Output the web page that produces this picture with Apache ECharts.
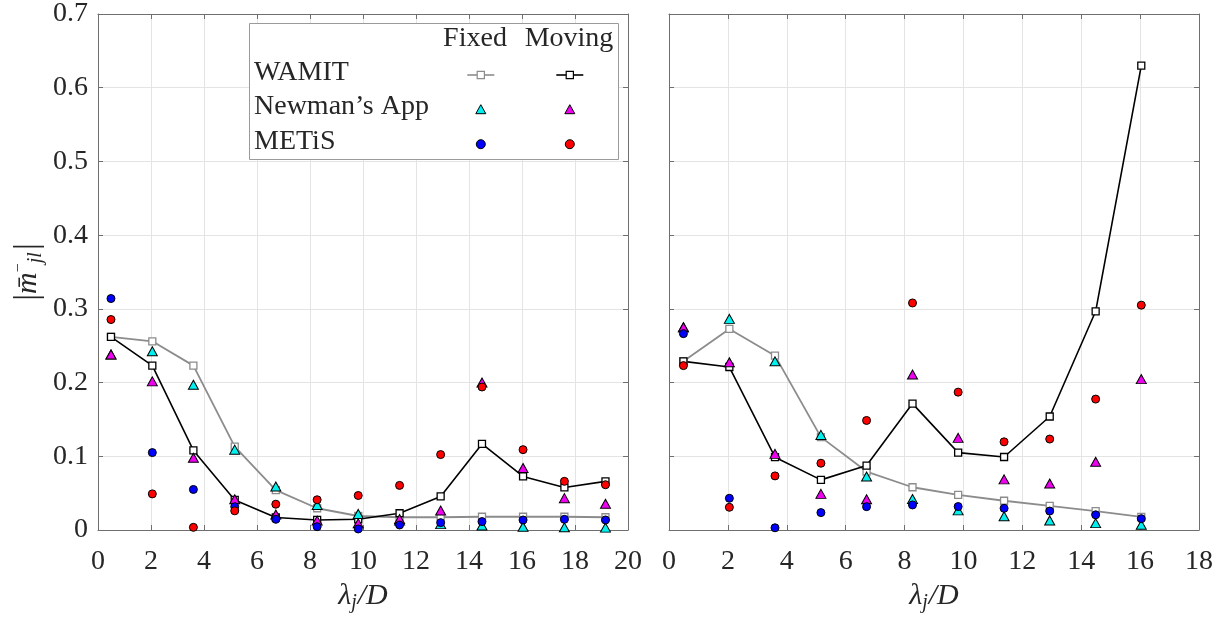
<!DOCTYPE html>
<html>
<head>
<meta charset="utf-8">
<script src="https://cdn.jsdelivr.net/npm/echarts@6/dist/echarts.min.js"></script>
<style>
  html, body { margin: 0; padding: 0; background: #ffffff; }
  #chart { width: 1221px; height: 618px; }
</style>
</head>
<body>
<div id="chart"></div>
<script>
// Wavelength ratio lambda_j / D at each evaluated frequency
const lambdaLeft = [0.49, 2.05, 3.60, 5.16, 6.71, 8.27, 9.82, 11.38, 12.93, 14.49, 16.04, 17.60, 19.15];
const lambdaRight = [0.49, 2.05, 3.60, 5.16, 6.71, 8.27, 9.82, 11.38, 12.93, 14.49, 16.04];

// Left panel: |m_jl^-|
const wamitFixedL   = [0.262, 0.256, 0.223, 0.113, 0.054, 0.0295, 0.019, 0.0173, 0.0173, 0.018, 0.018, 0.018, 0.0173];
const wamitMovingL  = [0.262, 0.223, 0.108, 0.0408, 0.017, 0.0136, 0.0145, 0.0227, 0.0455, 0.1168, 0.0727, 0.0577, 0.066];
const newmanFixedL  = [0.238, 0.2424, 0.197, 0.109, 0.059, 0.034, 0.0218, 0.0127, 0.008, 0.006, 0.0045, 0.0036, 0.0032];
const newmanMovingL = [0.238, 0.2016, 0.098, 0.0417, 0.021, 0.0127, 0.009, 0.015, 0.0264, 0.200, 0.084, 0.0432, 0.0355];
const metisFixedL   = [0.314, 0.105, 0.055, 0.0317, 0.0145, 0.0045, 0.0014, 0.0068, 0.010, 0.0114, 0.0136, 0.0145, 0.0136];
const metisMovingL  = [0.2855, 0.049, 0.0036, 0.026, 0.035, 0.041, 0.0468, 0.0605, 0.1023, 0.194, 0.109, 0.066, 0.0614];

// Right panel: |m_jl^-|
const wamitFixedR   = [0.229, 0.2728, 0.2365, 0.126, 0.0793, 0.058, 0.0477, 0.0397, 0.0327, 0.0257, 0.0178];
const wamitMovingR  = [0.2288, 0.2211, 0.0988, 0.068, 0.0874, 0.1715, 0.105, 0.099, 0.154, 0.2967, 0.630];
const newmanFixedR  = [0.275, 0.2864, 0.2288, 0.129, 0.0725, 0.042, 0.0266, 0.0187, 0.013, 0.0093, 0.007];
const newmanMovingR = [0.275, 0.2275, 0.1033, 0.049, 0.0417, 0.211, 0.125, 0.0687, 0.063, 0.0925, 0.2047];
const metisFixedR   = [0.2664, 0.043, 0.003, 0.0236, 0.0317, 0.034, 0.0318, 0.0294, 0.0257, 0.0206, 0.0154];
const metisMovingR  = [0.223, 0.0308, 0.0734, 0.0906, 0.1486, 0.308, 0.187, 0.1196, 0.1234, 0.1776, 0.305];

// Axis ticks
const xTicksLeft = [0, 2, 4, 6, 8, 10, 12, 14, 16, 18, 20];
const xTicksRight = [0, 2, 4, 6, 8, 10, 12, 14, 16, 18];
const yTicks = [0, 0.1, 0.2, 0.3, 0.4, 0.5, 0.6, 0.7];

// Legend table text
const legendHeaders = ['Fixed', 'Moving'];
const legendRows = ['WAMIT', 'Newman\u2019s App', 'METiS'];

const SERIF = "'Liberation Serif', 'Times New Roman', serif";
const INK = '#262626';
const AXIS = '#6f6f6f';
const GRID = '#e4e4e4';
const GRAY = '#8c8c8c';
const CYAN = '#00f0f0';
const MAGENTA = '#f000f0';
const BLUE = '#0000ff';
const RED = '#ff0000';
const TRIANGLE_ICON = 'path://M5,0L10,9L0,9Z';

const pairs = (xs, ys) => xs.map((x, i) => [x, ys[i]]);

const grids = [
  { left: 98, top: 14, width: 530, height: 516 },
  { left: 669, top: 14, width: 530, height: 516 }
];

function xAxes(gridIndex, ticks) {
  const step = ticks[1] - ticks[0];
  const base = {
    type: 'value', gridIndex, min: ticks[0], max: ticks[ticks.length - 1], interval: step,
    axisLine: { show: true, onZero: false, lineStyle: { color: AXIS, width: 1 } },
    axisTick: { show: true, inside: true, length: 5, lineStyle: { color: AXIS } }
  };
  return [
    Object.assign({}, base, {
      position: 'bottom',
      splitLine: { show: true, lineStyle: { color: GRID, width: 1 } },
      axisLabel: { show: true, fontFamily: SERIF, fontSize: 28, color: INK, margin: 18 },
      name: '{i|\u03bb}{s|j}{i|/D}',
      nameLocation: 'middle',
      nameGap: 36,
      nameTextStyle: {
        fontFamily: SERIF, fontSize: 30, color: INK,
        rich: {
          i: { fontFamily: SERIF, fontSize: 30, fontStyle: 'italic', color: INK },
          s: { fontFamily: SERIF, fontSize: 20, fontStyle: 'italic', color: INK, padding: [14, 1, 0, 0] }
        }
      }
    }),
    Object.assign({}, base, {
      position: 'top',
      splitLine: { show: false },
      axisLabel: { show: false }
    })
  ];
}

function yAxes(gridIndex, withLabels) {
  const base = {
    type: 'value', gridIndex, min: yTicks[0], max: yTicks[yTicks.length - 1],
    interval: yTicks[1] - yTicks[0],
    axisLine: { show: true, onZero: false, lineStyle: { color: AXIS, width: 1 } },
    axisTick: { show: true, inside: true, length: 5, lineStyle: { color: AXIS } }
  };
  const main = Object.assign({}, base, {
    position: 'left',
    splitLine: { show: true, lineStyle: { color: GRID, width: 1 } },
    axisLabel: {
      show: withLabels, fontFamily: SERIF, fontSize: 28, color: INK, margin: 10,
      formatter: v => (Math.abs(v) < 1e-9 ? '0' : v.toFixed(1))
    }
  });
  if (withLabels) {
    Object.assign(main, {
      name: '{b||}{m|m\u0304}{p|\u2212}{s|jl}{b||}',
      nameLocation: 'middle',
      nameGap: 52,
      nameRotate: 90,
      nameTextStyle: {
        fontFamily: SERIF, fontSize: 30, color: INK,
        rich: {
          b: { fontFamily: SERIF, fontSize: 34, color: INK },
          m: { fontFamily: SERIF, fontSize: 30, fontStyle: 'italic', color: INK },
          p: { fontFamily: SERIF, fontSize: 16, color: INK, padding: [0, 0, 18, 0] },
          s: { fontFamily: SERIF, fontSize: 20, fontStyle: 'italic', color: INK, padding: [16, 2, 0, 0] }
        }
      }
    });
  }
  return [
    main,
    Object.assign({}, base, { position: 'right', splitLine: { show: false }, axisLabel: { show: false } })
  ];
}

function panelSeries(xIdx, yIdx, xs, wf, wm, nf, nm, mf, mm) {
  const lineSeries = (name, ys, color, width) => ({
    name, type: 'line', xAxisIndex: xIdx, yAxisIndex: yIdx, data: pairs(xs, ys),
    symbol: 'rect', symbolSize: 7, showSymbol: true,
    lineStyle: { color, width },
    itemStyle: { color: '#ffffff', borderColor: color, borderWidth: 1.3 },
    emphasis: { disabled: true }, z: 2
  });
  const scatterSeries = (name, ys, symbol, size, fill) => ({
    name, type: 'scatter', xAxisIndex: xIdx, yAxisIndex: yIdx, data: pairs(xs, ys),
    symbol, symbolSize: size,
    itemStyle: { color: fill, borderColor: '#000000', borderWidth: 1, opacity: 1 },
    emphasis: { disabled: true }, z: 3
  });
  return [
    lineSeries('WAMIT Fixed', wf, GRAY, 1.8),
    lineSeries('WAMIT Moving', wm, '#000000', 1.6),
    scatterSeries('Newman Fixed', nf, 'triangle', [10, 9], CYAN),
    scatterSeries('Newman Moving', nm, 'triangle', [10, 9], MAGENTA),
    scatterSeries('METiS Fixed', mf, 'circle', 8, BLUE),
    scatterSeries('METiS Moving', mm, 'circle', 8, RED)
  ];
}

const series = [].concat(
  panelSeries(0, 0, lambdaLeft, wamitFixedL, wamitMovingL, newmanFixedL, newmanMovingL, metisFixedL, metisMovingL),
  panelSeries(2, 2, lambdaRight, wamitFixedR, wamitMovingR, newmanFixedR, newmanMovingR, metisFixedR, metisMovingR)
);

// Legend columns (icons only); the row and column captions are drawn as text
function legendColumn(centerX, suffix, lineColor, triFill, dotFill) {
  return {
    show: true, orient: 'vertical', left: centerX - 13.5, top: 70.5, padding: 0,
    itemWidth: 27, itemHeight: 9, itemGap: 25,
    formatter: () => '', textStyle: { fontSize: 1 },
    selectedMode: false, z: 6, symbolKeepAspect: true,
    data: [
      { name: 'WAMIT ' + suffix, itemStyle: { color: '#ffffff', borderColor: lineColor, borderWidth: 1.2 },
        lineStyle: { color: lineColor, width: 1.6 } },
      { name: 'Newman ' + suffix, icon: TRIANGLE_ICON, itemStyle: { color: triFill, borderColor: '#000', borderWidth: 1 } },
      { name: 'METiS ' + suffix, icon: 'circle', itemStyle: { color: dotFill, borderColor: '#000', borderWidth: 1 } }
    ]
  };
}

const headerCenters = [475, 569];
const rowCenters = [73, 107, 142];

const graphic = [
  { type: 'rect', z: 5, shape: { x: 249.5, y: 23.5, width: 369, height: 136 },
    style: { fill: '#ffffff', stroke: '#9a9a9a', lineWidth: 1 } }
].concat(
  legendHeaders.map((t, i) => ({
    type: 'text', z: 7, x: headerCenters[i], y: 39,
    style: { text: t, fontFamily: SERIF, fontSize: 28, fill: INK, align: 'center', verticalAlign: 'middle' }
  })),
  legendRows.map((t, i) => ({
    type: 'text', z: 7, x: 254, y: rowCenters[i],
    style: { text: t, fontFamily: SERIF, fontSize: 28, fill: INK, align: 'left', verticalAlign: 'middle' }
  }))
);

const chart = echarts.init(document.getElementById('chart'), null, { renderer: 'canvas' });
chart.setOption({
  backgroundColor: '#ffffff',
  animation: false,
  grid: grids,
  xAxis: [].concat(xAxes(0, xTicksLeft), xAxes(1, xTicksRight)),
  yAxis: [].concat(yAxes(0, true), yAxes(1, false)),
  legend: [
    legendColumn(480, 'Fixed', GRAY, CYAN, BLUE),
    legendColumn(569, 'Moving', '#000000', MAGENTA, RED)
  ],
  graphic,
  series
});
</script>
</body>
</html>
